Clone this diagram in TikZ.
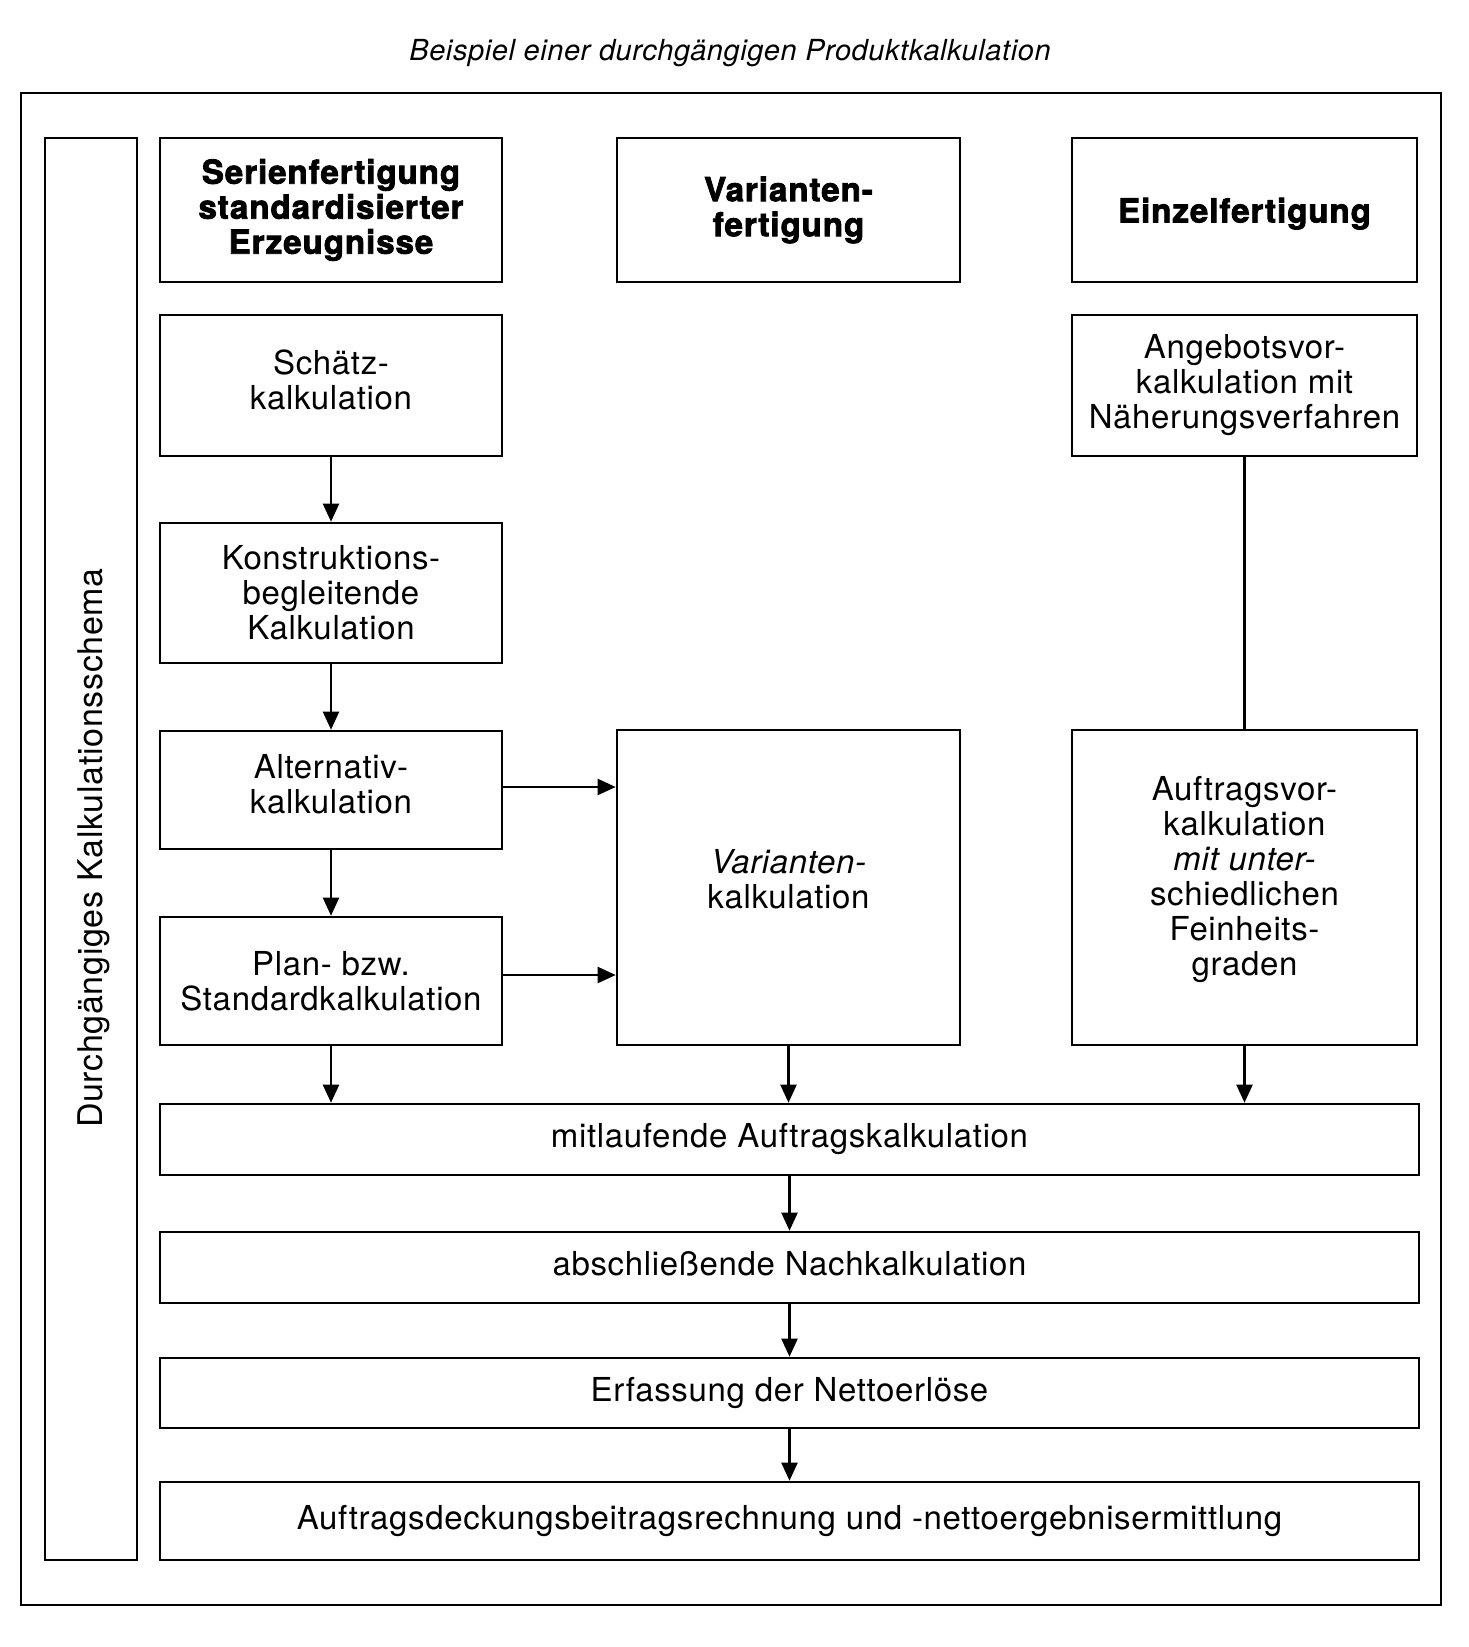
\documentclass[tikz,border=0pt]{standalone}
\usepackage{fontspec}
\setmainfont{TeX Gyre Heros}[LetterSpace=2]
\newfontfamily\heavyfont{TeX Gyre Heros}[LetterSpace=3, BoldFeatures={FakeBold=2.5}]
\usetikzlibrary{arrows.meta}
\newcommand\lowpad[1]{\rule[-#1]{0pt}{0pt}}
\begin{document}
\begin{tikzpicture}[x=1pt,y=-1pt,
  boxline/.style={draw=black, line width=2.6pt},
  box/.style={boxline, rectangle, align=center, inner sep=0pt,
    font=\fontsize{33}{35}\selectfont},
  hdr/.style={boxline, rectangle, align=center, inner sep=0pt,
    font=\heavyfont\bfseries\fontsize{33}{35}\selectfont},
  conn/.style={line width=2.2pt},
  arr/.style={conn, -{Triangle[length=18pt,width=16pt]}}
]
\useasboundingbox (0,0) rectangle (1468,1647);
% title
\node (title) at (730,53) {\fontsize{29}{30}\selectfont\itshape Beispiel einer durchgängigen Produktkalkulation};
% outer frame
\draw[boxline] (21,93) rectangle (1441,1605);
% left vertical box
\node[boxline, minimum width=92pt, minimum height=1422pt, inner sep=0pt] (schema) at (91,849) {};
\node[rotate=90, font=\fontsize{34}{35}\selectfont] (schematxt) at (94,848) {Durchgängiges Kalkulationsschema};
% headers
\node[hdr, minimum width=342pt, minimum height=144pt] (h1) at (331,210) {Serienfertigung\\standardisierter\\Erzeugnisse};
\node[hdr, minimum width=343pt, minimum height=144pt] (h2) at (788.5,210) {\raisebox{4pt}{Varianten-}\\\raisebox{4pt}{fertigung}};
\node[hdr, minimum width=345pt, minimum height=144pt] (h3) at (1244.5,210) {\rule{0pt}{32pt}Einzelfertigung};
% column 1
\node[box, minimum width=342pt, minimum height=141pt] (schaetz) at (331,385.5) {Schätz-\\kalkulation\lowpad{12pt}};
\node[box, minimum width=342pt, minimum height=140pt] (konstr) at (331,593) {Konstruktions-\\begleitende\\Kalkulation};
\node[box, minimum width=342pt, minimum height=118pt] (alt) at (331,790) {Alternativ-\\kalkulation\lowpad{12pt}};
\node[box, minimum width=342pt, minimum height=128pt] (plan) at (331,981) {Plan- bzw.\\Standardkalkulation};
% column 2
\node[box, minimum width=343pt, minimum height=315pt] (var) at (788.5,887.5) {{\itshape Varianten-}\\kalkulation\lowpad{17pt}};
% column 3
\node[box, minimum width=345pt, minimum height=141pt] (angebot) at (1244.5,385.5) {Angebotsvor-\\kalkulation mit\\Näherungsverfahren};
\node[box, minimum width=345pt, minimum height=315pt] (auftrvor) at (1244.5,887.5) {Auftragsvor-\\kalkulation\\{\itshape mit unter-}\\schiedlichen\\Feinheits-\\graden\lowpad{23pt}};
% wide boxes
\node[box, minimum width=1259pt, minimum height=71pt] (mitl) at (789.5,1139.5) {mitlaufende Auftragskalkulation};
\node[box, minimum width=1259pt, minimum height=71pt] (nach) at (789.5,1267.5) {abschließende Nachkalkulation\lowpad{8pt}};
\node[box, minimum width=1259pt, minimum height=70pt] (erf) at (789.5,1393) {Erfassung der Nettoerlöse};
\node[box, minimum width=1259pt, minimum height=78pt] (db) at (789.5,1521) {Auftragsdeckungsbeitragsrechnung und -nettoergebnisermittlung};
% connectors
\draw[arr] (schaetz.south) -- (konstr.north);
\draw[arr] (konstr.south) -- (alt.north);
\draw[arr] (alt.south) -- (plan.north);
\draw[arr] ([yshift=3pt]alt.east) -- ([yshift=3pt]alt.east -| var.west);
\draw[arr] ([yshift=6pt]plan.east) -- ([yshift=6pt]plan.east -| var.west);
\draw[conn] (angebot.south) -- (auftrvor.north);
\draw[arr] (plan.south) -- (plan.south |- mitl.north);
\draw[arr] (var.south) -- (var.south |- mitl.north);
\draw[arr] (auftrvor.south) -- (auftrvor.south |- mitl.north);
\draw[arr] (mitl.south) -- (nach.north);
\draw[arr] (nach.south) -- (erf.north);
\draw[arr] (erf.south) -- (db.north);
\end{tikzpicture}
\end{document}
